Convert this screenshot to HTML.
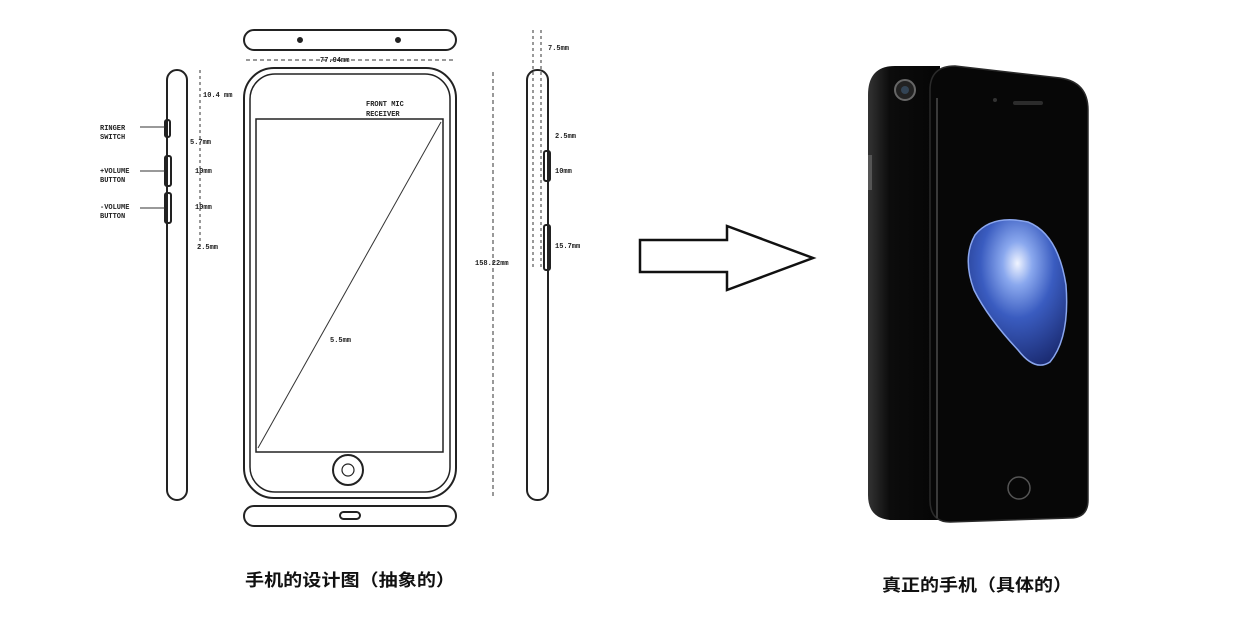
<!DOCTYPE html>
<html><head><meta charset="utf-8"><style>
html,body{margin:0;padding:0;background:#fff;}
svg{display:block}
text{font-family:"Liberation Mono",monospace;}
.cap{font-family:"Liberation Sans","Noto Sans CJK SC",sans-serif;font-weight:bold;font-size:17px;fill:#111}
</style></head><body>
<svg width="1258" height="629" viewBox="0 0 1258 629" xmlns="http://www.w3.org/2000/svg">
<defs>
<radialGradient id="drop" cx="0.5" cy="0.3" r="0.75">
<stop offset="0" stop-color="#f0f4ff"/><stop offset="0.2" stop-color="#8aa8ee"/><stop offset="0.5" stop-color="#3a5cc0"/><stop offset="1" stop-color="#1a2a70"/>
</radialGradient>
<linearGradient id="edge" x1="0" x2="1"><stop offset="0" stop-color="#333"/><stop offset="0.3" stop-color="#0c0c0c"/><stop offset="1" stop-color="#050505"/></linearGradient>
</defs>
<g fill="none" stroke="#222" stroke-width="2">
<rect x="244" y="30" width="212" height="20" rx="10"/>
<circle cx="300" cy="40" r="2" fill="#222"/><circle cx="398" cy="40" r="2" fill="#222"/>
<rect x="244" y="506" width="212" height="20" rx="10"/>
<rect x="340" y="512" width="20" height="7" rx="3.5"/>
<rect x="244" y="68" width="212" height="430" rx="30"/>
<rect x="250" y="74" width="200" height="418" rx="25" stroke-width="1.5"/>
<rect x="256" y="119" width="187" height="333" stroke-width="1.5"/>
<circle cx="348" cy="470" r="15"/><circle cx="348" cy="470" r="6" stroke-width="1.2"/>
<rect x="167" y="70" width="20" height="430" rx="10"/>
<rect x="165" y="120" width="5" height="17" rx="2"/>
<rect x="165" y="156" width="6" height="30" rx="2"/>
<rect x="165" y="193" width="6" height="30" rx="2"/>
<rect x="527" y="70" width="21" height="430" rx="10"/>
<rect x="544" y="151" width="6" height="30" rx="2"/>
<rect x="544" y="225" width="6" height="45" rx="2"/>
</g>
<g stroke="#333" stroke-width="1" fill="none">
<line x1="258" y1="448" x2="441" y2="122"/>
<line x1="246" y1="60" x2="455" y2="60" stroke-dasharray="4 3"/>
<line x1="493" y1="72" x2="493" y2="496" stroke-dasharray="4 3"/>
<line x1="200" y1="70" x2="200" y2="250" stroke-dasharray="3 3"/>
<line x1="533" y1="30" x2="533" y2="270" stroke-dasharray="3 3"/>
<line x1="541" y1="30" x2="541" y2="270" stroke-dasharray="3 3"/>
<line x1="140" y1="127" x2="165" y2="127"/><line x1="140" y1="171" x2="165" y2="171"/><line x1="140" y1="208" x2="165" y2="208"/>
</g>
<g font-size="7" fill="#222" font-weight="bold">
<text x="320" y="62">77.94mm</text>
<text x="203" y="97">10.4 mm</text>
<text x="190" y="144">5.7mm</text>
<text x="195" y="173">10mm</text>
<text x="195" y="209">10mm</text>
<text x="197" y="249">2.5mm</text>
<text x="100" y="130">RINGER</text><text x="100" y="139">SWITCH</text>
<text x="100" y="173">+VOLUME</text><text x="100" y="182">BUTTON</text>
<text x="100" y="209">-VOLUME</text><text x="100" y="218">BUTTON</text>
<text x="366" y="106">FRONT MIC</text><text x="366" y="116">RECEIVER</text>
<text x="475" y="265">158.22mm</text>
<text x="330" y="342">5.5mm</text>
<text x="548" y="50">7.5mm</text>
<text x="555" y="138">2.5mm</text>
<text x="555" y="173">10mm</text>
<text x="555" y="248">15.7mm</text>
</g>
<polygon points="640,240 727,240 727,226 813,258 727,290 727,272 640,272" fill="#fff" stroke="#111" stroke-width="2.5"/>
<path d="M895,66 L940,66 L940,520 L890,520 Q868,518 868,495 L868,95 Q868,66 895,66 Z" fill="url(#edge)"/>
<circle cx="905" cy="90" r="10" fill="#222" stroke="#666" stroke-width="2"/>
<circle cx="905" cy="90" r="4" fill="#345"/>
<rect x="868" y="155" width="4" height="35" fill="#555"/>
<path d="M955,66 L1060,78 Q1088,82 1088,110 L1088,500 Q1088,518 1070,518 L950,522 Q930,522 930,500 L930,90 Q930,66 955,66 Z" fill="#070707" stroke="#2a2a2a" stroke-width="1.5"/>
<rect x="936" y="98" width="2" height="420" fill="#3a3a3a"/>
<rect x="1013" y="101" width="30" height="4" rx="2" fill="#2c2c2c"/>
<circle cx="995" cy="100" r="2" fill="#333"/>
<circle cx="1019" cy="488" r="11" fill="none" stroke="#555" stroke-width="1.5"/>
<path d="M975,235 Q992,214 1028,222 Q1058,234 1066,285 Q1070,338 1050,362 Q1035,372 1018,350 Q988,318 974,290 Q962,258 975,235 Z" fill="url(#drop)" stroke="#8aa6ee" stroke-width="1.5"/>
<text x="245" y="586" class="cap" textLength="210" lengthAdjust="spacingAndGlyphs">手机的设计图（抽象的）</text>
<text x="882" y="591" class="cap" textLength="190" lengthAdjust="spacingAndGlyphs">真正的手机（具体的）</text>
</svg>
</body></html>
